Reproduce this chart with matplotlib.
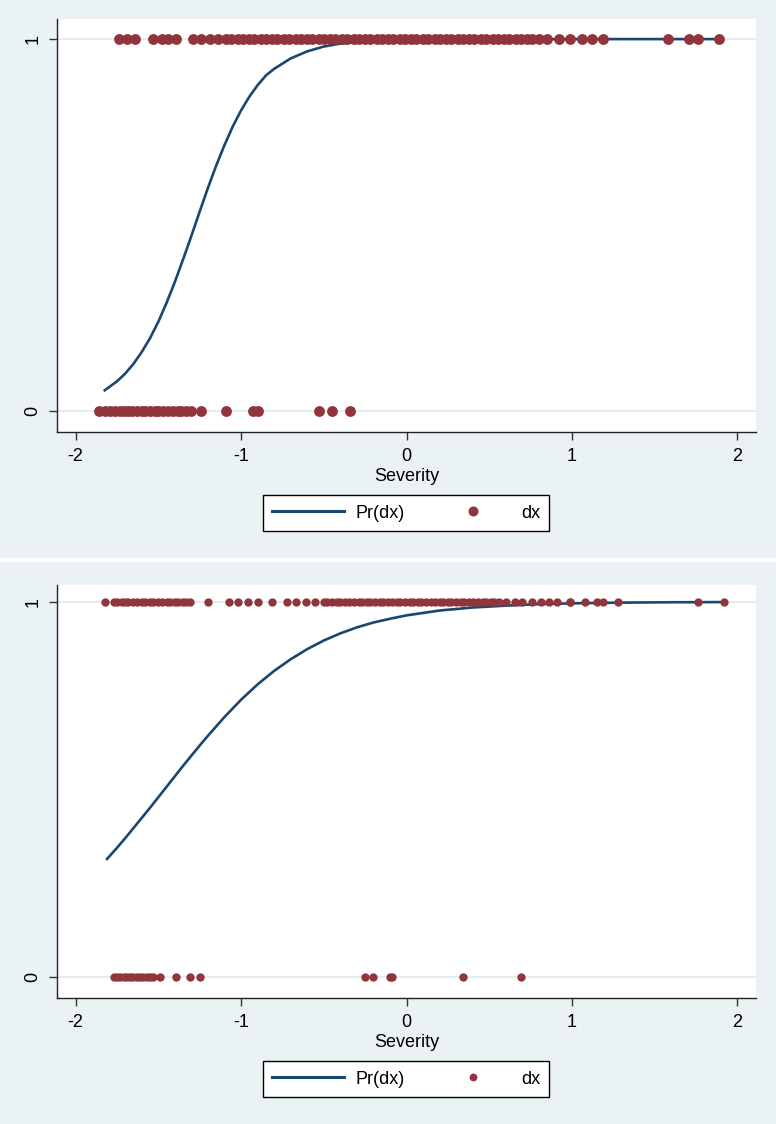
import matplotlib.pyplot as plt
from matplotlib.lines import Line2D
from matplotlib.patches import Rectangle

plt.rcParams['font.family'] = ['Liberation Sans', 'DejaVu Sans']
plt.rcParams['axes.unicode_minus'] = False

NAVY = '#1A476F'
MAROON = '#90353B'
BG = '#EAF2F3'
GRID = '#E3ECEE'

# ---- top panel: fitted curve and observed dx by severity ----
top_curve_x = [-1.83, -1.75, -1.70, -1.65, -1.60, -1.55, -1.50, -1.45, -1.40, -1.35,
               -1.30, -1.25, -1.20, -1.15, -1.10, -1.05, -1.00, -0.95, -0.90, -0.85,
               -0.80, -0.70, -0.60, -0.50, -0.40, -0.25, 0.00, 0.50, 1.00, 1.89]
top_curve_p = [0.054, 0.080, 0.101, 0.127, 0.159, 0.196, 0.240, 0.291, 0.347, 0.408,
               0.471, 0.536, 0.600, 0.660, 0.715, 0.765, 0.808, 0.845, 0.876, 0.902,
               0.920, 0.948, 0.967, 0.980, 0.988, 0.994, 0.998, 0.9998, 1.0, 1.0]

top_sev_dx1 = [-1.74, -1.69, -1.64, -1.53, -1.48, -1.44, -1.39, -1.29, -1.24, -1.19, -1.14,
               -1.09, -1.06, -1.02, -0.99, -0.95, -0.92, -0.88, -0.85, -0.81, -0.78,
               -0.74, -0.71, -0.67, -0.64, -0.60, -0.57, -0.53, -0.50, -0.46, -0.43,
               -0.39, -0.36, -0.32, -0.29, -0.25, -0.22, -0.18, -0.15, -0.11, -0.08,
               -0.04, -0.01, 0.03, 0.06, 0.10, 0.13, 0.17, 0.20, 0.24, 0.27, 0.31,
               0.34, 0.38, 0.41, 0.45, 0.48, 0.52, 0.55, 0.59, 0.62, 0.66, 0.69,
               0.73, 0.76, 0.80, 0.85, 0.92, 0.99, 1.06, 1.12, 1.19, 1.58, 1.71,
               1.76, 1.89]
top_sev_dx0 = [-1.86, -1.82, -1.79, -1.76, -1.73, -1.71, -1.68, -1.66, -1.63, -1.60,
               -1.58, -1.55, -1.52, -1.50, -1.47, -1.44, -1.41, -1.38, -1.36, -1.33,
               -1.30, -1.24, -1.09, -0.93, -0.90, -0.53, -0.45, -0.34]

# ---- bottom panel ----
bot_curve_x = [-1.815, -1.75, -1.70, -1.65, -1.60, -1.55, -1.50, -1.45, -1.40, -1.35,
               -1.30, -1.25, -1.20, -1.10, -1.00, -0.90, -0.80, -0.70, -0.60, -0.50,
               -0.40, -0.30, -0.20, -0.10, 0.00, 0.20, 0.40, 0.60, 0.80, 1.00,
               1.30, 1.60, 1.94]
bot_curve_p = [0.312, 0.344, 0.370, 0.397, 0.424, 0.451, 0.479, 0.507, 0.535, 0.563,
               0.590, 0.617, 0.643, 0.693, 0.739, 0.780, 0.816, 0.847, 0.874, 0.897,
               0.916, 0.932, 0.945, 0.955, 0.964, 0.977, 0.985, 0.990, 0.994, 0.996,
               0.998, 0.999, 0.9995]

bot_sev_dx1 = [-1.82, -1.77, -1.75, -1.72, -1.70, -1.68, -1.65, -1.63, -1.60, -1.58,
               -1.55, -1.53, -1.50, -1.48, -1.45, -1.43, -1.40, -1.38, -1.35, -1.33,
               -1.31, -1.20, -1.07, -1.02, -0.96, -0.90, -0.81, -0.72, -0.67, -0.61,
               -0.55, -0.50, -0.48, -0.45, -0.42, -0.40, -0.37, -0.35, -0.32, -0.29,
               -0.27, -0.24, -0.22, -0.19, -0.16, -0.14, -0.11, -0.09, -0.06, -0.04,
               -0.01, 0.02, 0.04, 0.07, 0.09, 0.12, 0.15, 0.17, 0.20, 0.22, 0.25,
               0.27, 0.30, 0.33, 0.35, 0.38, 0.40, 0.43, 0.46, 0.48, 0.51, 0.53,
               0.56, 0.60, 0.655, 0.70, 0.76, 0.81, 0.86, 0.91, 0.985, 0.99, 1.08,
               1.15, 1.19, 1.28, 1.76, 1.92]
bot_sev_dx0 = [-1.77, -1.75, -1.73, -1.71, -1.69, -1.67, -1.65, -1.63, -1.61, -1.59,
               -1.57, -1.55, -1.53, -1.49, -1.39, -1.31, -1.25, -0.25, -0.20, -0.10,
               -0.09, 0.34, 0.69]

xticks = [-2, -1, 0, 1, 2]
yticks = [0, 1]

W, H = 776, 1124
fig = plt.figure(figsize=(W / 100, H / 100), dpi=100, facecolor='white')

# panel backgrounds with thin white gap between them
fig.patches.append(Rectangle((0, 1 - 558 / H), 1, 558 / H, transform=fig.transFigure,
                             facecolor=BG, edgecolor='none', zorder=-10))
fig.patches.append(Rectangle((0, 0), 1, 1 - 562 / H, transform=fig.transFigure,
                             facecolor=BG, edgecolor='none', zorder=-10))


def draw_panel(top_px, ylim, cx, cp, s1, s0, ms, lms):
    ax = fig.add_axes([57 / W, 1 - (top_px + 413) / H, 699 / W, 413 / H])
    ax.set_facecolor('white')
    for y in yticks:
        ax.axhline(y, color=GRID, lw=1.5, zorder=0)
    ax.plot(cx, cp, color=NAVY, lw=1.9, zorder=2, solid_capstyle='butt')
    ax.plot(s1, [1] * len(s1), 'o', color=MAROON, ms=ms, mec='none', zorder=3)
    ax.plot(s0, [0] * len(s0), 'o', color=MAROON, ms=ms, mec='none', zorder=3)
    ax.set_xlim(-2.112, 2.112)
    ax.set_ylim(*ylim)
    ax.set_xticks(xticks)
    ax.set_yticks(yticks)
    ax.set_yticklabels([str(v) for v in yticks], rotation=90, va='center')
    ax.tick_params(length=6, width=1, color='#333333', labelsize=13, pad=5.5)
    ax.tick_params(axis='y', pad=5)
    for s in ['top', 'right']:
        ax.spines[s].set_visible(False)
    for s in ['left', 'bottom']:
        ax.spines[s].set_color('#222222')
        ax.spines[s].set_linewidth(1)
    ax.set_xlabel('Severity', fontsize=13, labelpad=2)

    handles = [Line2D([], [], color=NAVY, lw=2.2),
               Line2D([], [], ls='none', marker='o', color=MAROON, ms=lms, mec='none')]
    leg = ax.legend(handles, ['Pr(dx)', 'dx'], ncol=2, loc='center',
                    bbox_to_anchor=(406 / W, 1 - (top_px + 494) / H),
                    bbox_transform=fig.transFigure, fontsize=13,
                    handlelength=4.0, handletextpad=0.65, columnspacing=1.8,
                    borderpad=0.5, fancybox=False, framealpha=1,
                    edgecolor='black')
    leg.get_frame().set_linewidth(1)
    return ax


draw_panel(19, (-0.056, 1.054), top_curve_x, top_curve_p, top_sev_dx1, top_sev_dx0, 7.8, 7.2)
draw_panel(585, (-0.056, 1.045), bot_curve_x, bot_curve_p, bot_sev_dx1, bot_sev_dx0, 6.0, 5.6)

fig.savefig('out.png', dpi=100)
